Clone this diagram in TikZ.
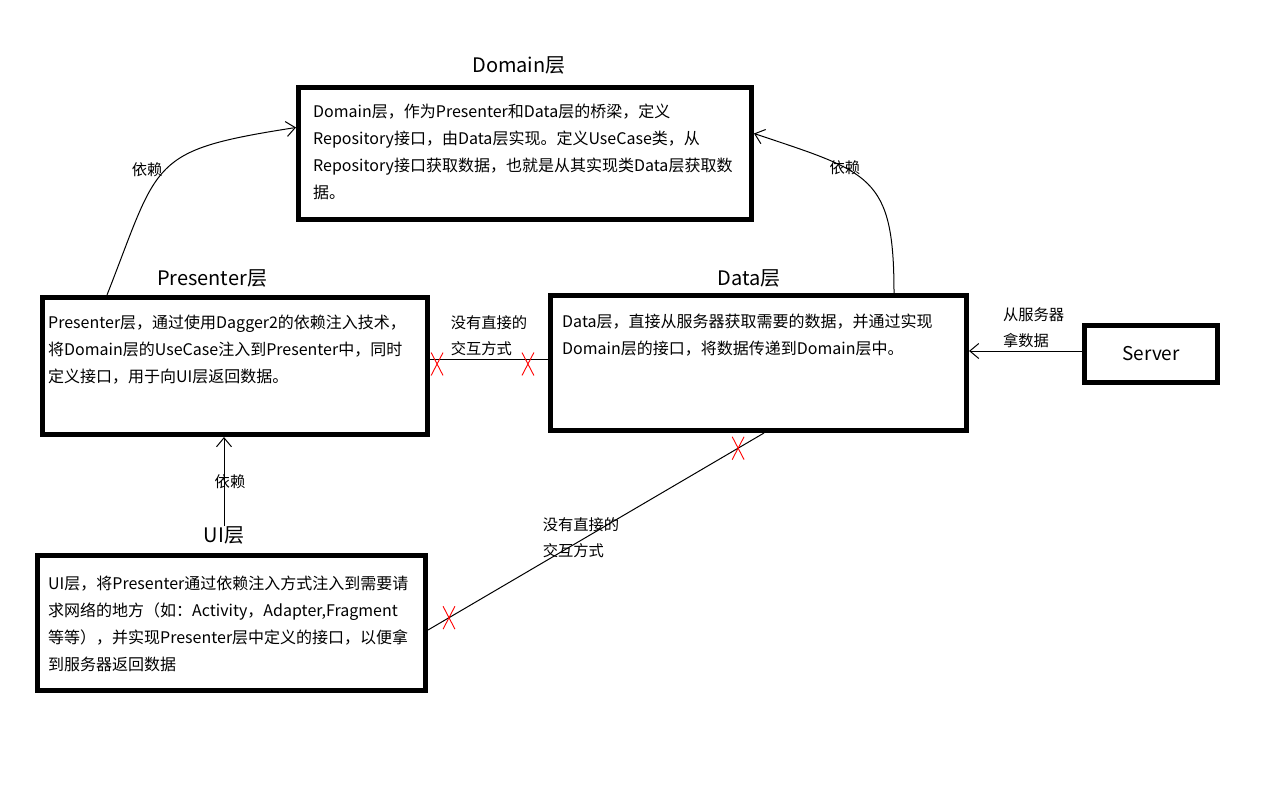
\documentclass[tikz,border=0pt]{standalone}
\usepackage{fontspec}
\setmainfont{Noto Sans CJK SC}
\usetikzlibrary{positioning, arrows.meta, shapes.misc}

\begin{document}
\begin{tikzpicture}[
    x=1pt, y=-1pt,
    >={Straight Barb[length=9pt,width=15pt]},
    % Styles
    layerbox/.style={
        rectangle,
        draw,
        line width=5pt,
        inner sep=0pt
    },
    bodytext/.style={
        align=left,
        inner sep=0pt,
        font=\fontsize{16}{27}\selectfont
    },
    layertitle/.style={
        inner sep=0pt,
        font=\fontsize{20}{24}\selectfont
    },
    linklabel/.style={
        align=left,
        inner sep=0pt,
        font=\fontsize{15.3}{26}\selectfont
    },
    dep/.style={
        ->,
        line width=1pt
    },
    nolink/.style={
        line width=1pt
    },
    xmark/.style={
        cross out,
        draw=red,
        line width=0.9pt,
        minimum width=11pt,
        minimum height=22pt,
        inner sep=0pt
    }
]
    \useasboundingbox (0,0) rectangle (1271,803);

    % Layers
    \node[layerbox, minimum width=453pt, minimum height=132pt] (dom) at (525,153.5) {};
    \node[layerbox, minimum width=385pt, minimum height=137pt] (pres) at (235,366) {};
    \node[layerbox, minimum width=416pt, minimum height=135pt] (data) at (758.5,363) {};
    \node[layerbox, minimum width=388pt, minimum height=135pt] (ui) at (231.5,623) {};
    \node[layerbox, line width=4.5pt, minimum width=133pt, minimum height=57pt,
          font=\fontsize{19}{23}\selectfont] (server) at (1151,354) {Server};

    % Titles
    \node[layertitle] (domtitle) at (519,65) {Domain层};
    \node[layertitle] (prestitle) at (212,278) {Presenter层};
    \node[layertitle] (datatitle) at (749,278) {Data层};
    \node[layertitle] (uititle) at (224,535) {UI层};

    % Texts in the layers
    \node[bodytext, anchor=north west, below right=19pt and 17pt of dom.north west] (domtext)
        {Domain层，作为Presenter和Data层的桥梁，定义\\Repository接口，由Data层实现。定义UseCase类，从\\Repository接口获取数据，也就是从其实现类Data层获取数\\据。};
    \node[bodytext, anchor=north west, below right=20pt and 8pt of pres.north west] (prestext)
        {Presenter层，通过使用Dagger2的依赖注入技术，\\将Domain层的UseCase注入到Presenter中，同时\\定义接口，用于向UI层返回数据。};
    \node[bodytext, anchor=north west, below right=21pt and 14pt of data.north west] (datatext)
        {Data层，直接从服务器获取需要的数据，并通过实现\\Domain层的接口，将数据传递到Domain层中。};
    \node[bodytext, anchor=north west, below right=23pt and 13pt of ui.north west] (uitext)
        {UI层，将Presenter通过依赖注入方式注入到需要请\\求网络的地方（如：Activity，Adapter,Fragment\\等等），并实现Presenter层中定义的接口，以便拿\\到服务器返回数据};

    % Dependencies
    \draw[dep] ([xshift=67pt]pres.north west) .. controls +(53,-135) and +(-148,23) .. ([yshift=26pt]dom.west)
        node[linklabel, pos=0.5, anchor=east, xshift=-3pt] (dep1) {依赖};
    \draw[dep] ([xshift=346pt]data.north west) .. controls +(0,-118) and +(116,39) .. ([yshift=20pt]dom.east)
        node[linklabel, pos=0.65] (dep2) {依赖};
    \draw[dep] (uititle.north) -- (uititle.north |- pres.south)
        node[linklabel, midway, xshift=6pt] (dep3) {依赖};
    \draw[dep] ([yshift=3pt]server.west) -- ([yshift=3pt]server.west -| data.east)
        node[linklabel, midway, above=3pt, xshift=8pt] (fetch) {从服务器\\拿数据};

    % No direct interaction
    \draw[nolink] ([yshift=4pt]data.west) -- ([yshift=4pt]data.west -| pres.east)
        node[xmark, pos=0.17, yshift=-5pt] (x1) {}
        node[xmark, pos=0.94, yshift=-5pt] (x2) {}
        node[linklabel, midway, above=3pt] (nolink1) {没有直接的\\交互方式};
    \draw[nolink] ([yshift=-7pt]ui.east) -- ([xshift=5.5pt]data.south)
        node[xmark, pos=0.0625] (x3) {}
        node[xmark, pos=0.923] (x4) {}
        node[linklabel, midway, xshift=-15pt, yshift=-6pt] (nolink2) {没有直接的\\交互方式};
\end{tikzpicture}
\end{document}
